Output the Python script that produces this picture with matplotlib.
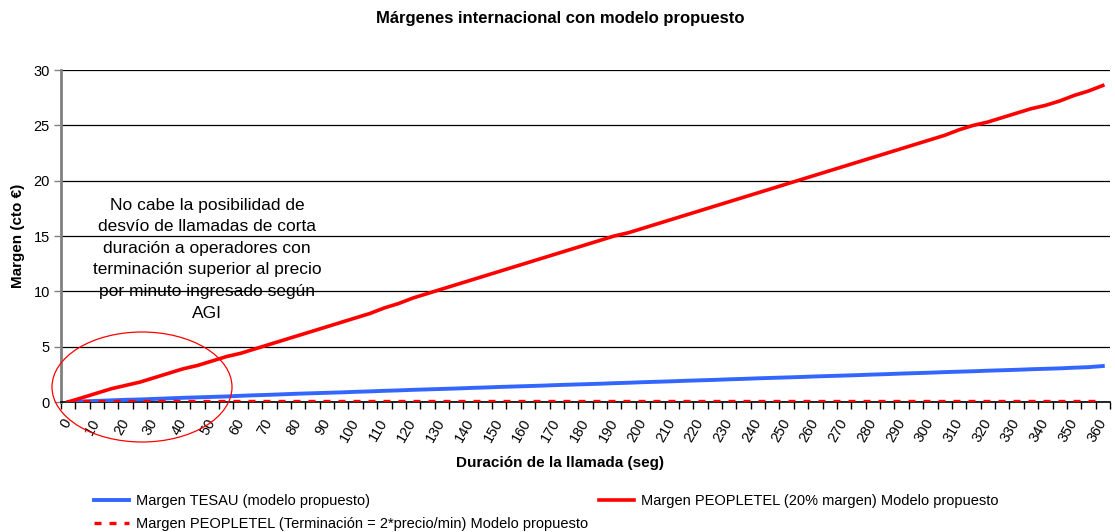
import matplotlib
matplotlib.use("Agg")
import matplotlib.pyplot as plt
from matplotlib.patches import Ellipse

plt.rcParams['font.family'] = ['Liberation Sans', 'DejaVu Sans']

# ---- data ----
durations = list(range(0, 361, 5))  # seconds (categories)
tick_labels = [str(d) for d in durations]

tesau = [0.00, 0.05, 0.10, 0.15, 0.20, 0.23, 0.28, 0.33, 0.38, 0.42,
         0.46, 0.50, 0.56, 0.61, 0.65, 0.70, 0.75, 0.79, 0.83, 0.87,
         0.92, 0.96, 1.01, 1.05, 1.10, 1.14, 1.18, 1.22, 1.27, 1.31,
         1.36, 1.40, 1.44, 1.48, 1.53, 1.57, 1.61, 1.65, 1.70, 1.74,
         1.79, 1.83, 1.87, 1.92, 1.96, 2.00, 2.05, 2.09, 2.14, 2.18,
         2.22, 2.26, 2.31, 2.35, 2.39, 2.43, 2.48, 2.52, 2.57, 2.61,
         2.65, 2.70, 2.74, 2.78, 2.83, 2.87, 2.91, 2.96, 3.00, 3.04,
         3.10, 3.15, 3.25]

peopletel_20 = [0.0, 0.4, 0.8, 1.2, 1.5, 1.8, 2.2, 2.6, 3.0, 3.3,
                3.7, 4.1, 4.4, 4.8, 5.2, 5.6, 6.0, 6.4, 6.8, 7.2,
                7.6, 8.0, 8.5, 8.9, 9.4, 9.8, 10.2, 10.6, 11.0, 11.4,
                11.8, 12.2, 12.6, 13.0, 13.4, 13.8, 14.2, 14.6, 15.0, 15.3,
                15.7, 16.1, 16.5, 16.9, 17.3, 17.7, 18.1, 18.5, 18.9, 19.3,
                19.7, 20.1, 20.5, 20.9, 21.3, 21.7, 22.1, 22.5, 22.9, 23.3,
                23.7, 24.1, 24.6, 25.0, 25.3, 25.7, 26.1, 26.5, 26.8, 27.2,
                27.7, 28.1, 28.6]

peopletel_term = [0.1] * len(durations)

series_labels = ["Margen TESAU (modelo propuesto)",
                 "Margen PEOPLETEL (20% margen) Modelo propuesto",
                 "Margen PEOPLETEL (Terminación = 2*precio/min) Modelo propuesto"]

# ---- figure ----
W, H = 1115, 532
fig = plt.figure(figsize=(W / 100, H / 100), dpi=100)
ax = fig.add_axes([61 / W, 1 - 402 / H, (1110 - 61) / W, (402 - 70) / H])

x = list(range(len(durations)))
blue = '#3366FF'
red = '#FF0000'

l_blue, = ax.plot(x, tesau, color=blue, lw=2.8, label=series_labels[0], zorder=3)
l_red, = ax.plot(x, peopletel_20, color=red, lw=2.6, label=series_labels[1], zorder=4)
l_dash, = ax.plot(x, peopletel_term, color=red, lw=2.4, label=series_labels[2],
                  dashes=(2.1, 2.4), dash_capstyle='butt', zorder=3)

ax.set_xlim(-0.5, len(durations) - 0.5)
ax.set_ylim(0, 30)
ax.set_yticks(range(0, 31, 5))
ax.grid(axis='y', color='black', lw=0.9)
ax.set_axisbelow(True)

for s in ['top', 'right']:
    ax.spines[s].set_visible(False)
ax.spines['left'].set_color('#808080')
ax.spines['left'].set_linewidth(2)
ax.spines['bottom'].set_color('black')
ax.spines['bottom'].set_linewidth(1.2)

ax.tick_params(axis='y', length=5, width=1, color='#808080', labelsize=10.5, pad=3)
# category ticks between categories, labels every other category
ax.set_xticks([i + 0.5 for i in range(-1, len(durations))], minor=True)
ax.set_xticks(x[::2])
ax.set_xticklabels(tick_labels[::2], rotation=60, ha='right', va='center',
                   rotation_mode='anchor', fontsize=10.5)
ax.tick_params(axis='x', which='major', length=0, pad=13)
ax.tick_params(axis='x', which='minor', length=5, width=1, color='black')

fig.text(560 / W, 1 - 18 / H, "Márgenes internacional con modelo propuesto",
         ha='center', va='center', fontsize=12, fontweight='bold')
fig.text(560 / W, 1 - 463 / H, "Duración de la llamada (seg)",
         ha='center', va='center', fontsize=11, fontweight='bold')
fig.text(18 / W, 1 - 236 / H, "Margen (cto €)", rotation=90,
         ha='center', va='center', fontsize=11, fontweight='bold')

fig.text(207 / W, 1 - 259 / H,
         "No cabe la posibilidad de\ndesvío de llamadas de corta\nduración a operadores con\n"
         "terminación superior al precio\npor minuto ingresado según\nAGI",
         ha='center', va='center', fontsize=12.5, linespacing=1.55)

ell = Ellipse((142 / W, 1 - 387 / H), 180 / W, 110 / H, transform=fig.transFigure,
              fill=False, edgecolor=red, lw=0.9, clip_on=False, zorder=10)
fig.add_artist(ell)

leg = fig.legend(handles=[l_blue, l_dash, l_red], loc='upper left',
                 bbox_to_anchor=(94 / W, 1 - 494 / H), ncol=2, frameon=False,
                 fontsize=10.5, handlelength=2.4, handletextpad=0.45,
                 columnspacing=0.8, labelspacing=0.6, borderpad=0, borderaxespad=0)

fig.savefig("out.png", dpi=100)
